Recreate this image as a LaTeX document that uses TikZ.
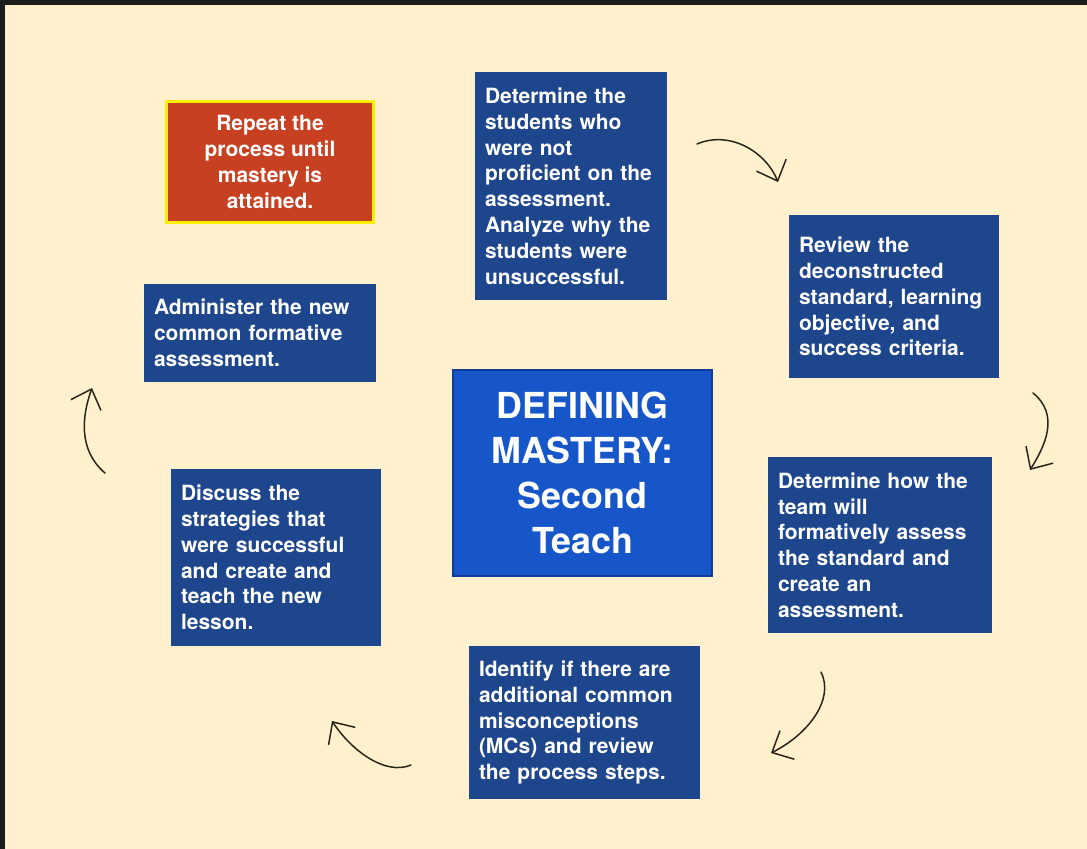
\documentclass[tikz,border=0pt]{standalone}
\usepackage{fontspec}
\setmainfont{TeX Gyre Heros}
\usetikzlibrary{positioning,arrows.meta}
\definecolor{paper}{RGB}{255,241,206}
\definecolor{frameDark}{RGB}{28,28,28}
\definecolor{stepBlue}{RGB}{30,70,140}
\definecolor{hubBlue}{RGB}{22,86,200}
\definecolor{hubEdge}{RGB}{15,60,150}
\definecolor{repeatRed}{RGB}{200,64,34}
\definecolor{glow}{RGB}{255,240,0}
\definecolor{ink}{RGB}{40,38,26}

\begin{document}
\begin{tikzpicture}[x=1bp, y=-1bp,
    task/.style={fill=stepBlue, text=white, font=\fontsize{21bp}{25.8bp}\selectfont\bfseries, align=left, inner xsep=10bp, inner ysep=0pt},
    hub/.style={fill=hubBlue, draw=hubEdge, line width=2bp, text=white, font=\fontsize{35.8bp}{45bp}\selectfont\bfseries, align=center, minimum width=259bp, minimum height=206bp},
    goal/.style={fill=repeatRed, draw=glow, line width=3bp, text=white, font=\fontsize{21bp}{25.8bp}\selectfont\bfseries, align=center, minimum width=207bp, minimum height=121bp},
    hand/.style={ink, line width=1.5bp, line cap=round, line join=round, -{Straight Barb[length=17bp,width=32bp]}},
]
% Paper and frame
\fill[paper] (0,0) rectangle (1087,849);
\fill[frameDark] (0,0) rectangle (1087,5);
\fill[frameDark] (0,0) rectangle (5,849);

% Centre
\node[hub] (mastery) at (582.5,473) {DEFINING\\MASTERY:\\Second\\Teach};

% Cycle steps
\node[task, text width=172bp, minimum height=228bp] (find) at (571,186)
  {Determine the\\students who\\were not\\proficient on the\\assessment.\\Analyze why the\\students were\\unsuccessful.};
\node[task, text width=190bp, minimum height=163bp] (review) at (894,296.5)
  {Review the\\deconstructed\\standard, learning\\objective, and\\success criteria.};
\node[task, text width=204bp, minimum height=176bp] (assess) at (880,545)
  {Determine how the\\team will\\formatively assess\\the standard and\\create an\\assessment.};
\node[task, text width=211bp, minimum height=153bp] (misc) at (584.5,722.5)
  {Identify if there are\\additional common\\misconceptions\\(MCs) and review\\the process steps.};
\node[task, text width=190bp, minimum height=177bp] (discuss) at (276,557.5)
  {Discuss the\\strategies that\\were successful\\and create and\\teach the new\\lesson.};
\node[task, text width=212bp, minimum height=98bp] (admin) at (260,333)
  {Administer the new\\common formative\\assessment.};

% Repeat note
\node[goal] (repeat) at (270,162) {Repeat the\\process until\\mastery is\\attained.};

% Hand-drawn arrows
\coordinate (h1a) at (697,144); \coordinate (h1b) at (778,182);
\coordinate (h2a) at (1033,393); \coordinate (h2b) at (1030,470);
\coordinate (h3a) at (821,672); \coordinate (h3b) at (771,753);
\coordinate (h4a) at (411,765); \coordinate (h4b) at (332,721);
\coordinate (h5a) at (105,473); \coordinate (h5b) at (92,388);
\draw[hand] (h1a) .. controls (730,130) and (766,152) .. (h1b);
\draw[hand] (h2a) .. controls (1060,415) and (1045,446) .. (h2b);
\draw[hand] (h3a) .. controls (835,700) and (807,735) .. (h3b);
\draw[hand] (h4a) .. controls (385,776) and (351,750) .. (h4b);
\draw[hand] (h5a) .. controls (78,450) and (82,416) .. (h5b);
\end{tikzpicture}
\end{document}
